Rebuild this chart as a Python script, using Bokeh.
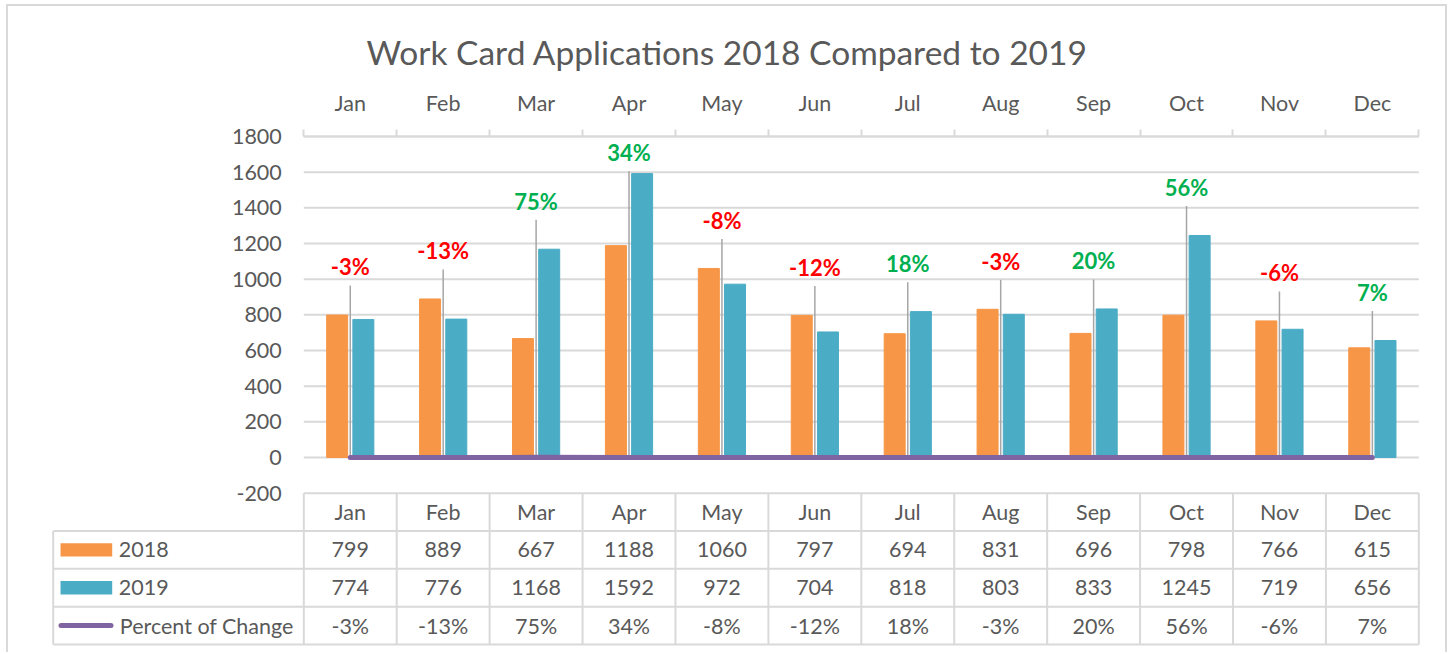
from bokeh.plotting import figure
from bokeh.models import Range1d, FixedTicker, ColumnDataSource, Title, LinearAxis
from bokeh.layouts import column
from bokeh.transform import dodge
from bokeh.embed import file_html
from bokeh.resources import INLINE
from bokeh.core.properties import value

# ---------------- data ----------------
months = ["Jan", "Feb", "Mar", "Apr", "May", "Jun", "Jul", "Aug", "Sep", "Oct", "Nov", "Dec"]
apps_2018 = [799, 889, 667, 1188, 1060, 797, 694, 831, 696, 798, 766, 615]
apps_2019 = [774, 776, 1168, 1592, 972, 704, 818, 803, 833, 1245, 719, 656]
pct_change = [-3, -13, 75, 34, -8, -12, 18, -3, 20, 56, -6, 7]
y_ticks = [-200, 0, 200, 400, 600, 800, 1000, 1200, 1400, 1600, 1800]
series_names = ["2018", "2019", "Percent of Change"]
title_text = "Work Card Applications 2018 Compared to 2019"

# ---------------- style ----------------
GRID = "#D9D9D9"
TEXT = "#595959"
ORANGE = "#F79646"
TEAL = "#4BACC6"
PURPLE = "#8064A2"
GREEN = "#00B050"
RED = "#FF0000"
LEADER = "#A6A6A6"
FONT = "Lato"

n = len(months)
centers = [i + 0.5 for i in range(n)]
pct_frac = [v / 100 for v in pct_change]
label_y = [min(max(a, b) + 270, 1710) for a, b in zip(apps_2018, apps_2019)]
leader_top = [y - 105 for y in label_y]
y_max = max(y_ticks)

src = ColumnDataSource(dict(
    x=centers, y18=apps_2018, y19=apps_2019, pct=pct_frac,
    label_y=label_y, leader_top=leader_top,
    label=[f"{v}%" for v in pct_change],
    label_color=[GREEN if v >= 0 else RED for v in pct_change],
))

# ---------------- figure ----------------
p = figure(width=1437, height=646,
           x_range=Range1d(-2.7153, 12.018), y_range=Range1d(-1059.9, 2080.4),
           x_axis_location="above", y_axis_location=None,
           output_backend="svg", toolbar_location=None,
           min_border_left=43, min_border_right=25, min_border_top=80, min_border_bottom=6)
p.extra_y_ranges = {"table": Range1d(-4.053, 10.750)}
p.outline_line_color = None
p.background_fill_color = "white"
p.border_fill_color = "white"
p.grid.visible = False

p.title = Title(text=title_text, align="left", offset=315, text_font_size="33.5px",
                text_font=FONT, text_font_style="normal", text_color=TEXT, standoff=30)

# top category axis: drawn on the top gridline, labels at centres, ticks at boundaries
xa = p.xaxis[0]
xa.fixed_location = y_max
xa.bounds = (0, n)
xa.ticker = FixedTicker(ticks=centers, minor_ticks=list(range(n + 1)))
xa.major_label_overrides = {c: m for c, m in zip(centers, months)}
xa.major_tick_line_color = None
xa.major_tick_out = 0
xa.major_tick_in = 0
xa.minor_tick_line_color = GRID
xa.minor_tick_line_width = 2
xa.minor_tick_out = 7
xa.minor_tick_in = 0
xa.axis_line_color = GRID
xa.axis_line_width = 2
xa.major_label_standoff = 14
xa.major_label_text_font = FONT
xa.major_label_text_font_size = "21.5px"
xa.major_label_text_color = TEXT

# value axis: drawn at the left edge of the plot area
ya = LinearAxis(fixed_location=0, ticker=FixedTicker(ticks=y_ticks))
ya.major_label_overrides = {v: str(v) for v in y_ticks}
ya.axis_line_color = None
ya.major_tick_line_color = None
ya.minor_tick_line_color = None
ya.major_tick_out = 0
ya.major_tick_in = 0
ya.major_label_standoff = 22
ya.major_label_text_font = FONT
ya.major_label_text_font_size = "21.5px"
ya.major_label_text_color = TEXT
p.add_layout(ya, "left")

# value gridlines
p.segment(x0=[0] * len(y_ticks), y0=y_ticks, x1=[n] * len(y_ticks), y1=y_ticks,
          line_color=GRID, line_width=2)

# series
p.vbar(x=dodge("x", -0.141), top="y18", width=0.226, color=ORANGE, source=src)
p.vbar(x=dodge("x", 0.141), top="y19", width=0.226, color=TEAL, source=src)
p.segment(x0="x", y0="pct", x1="x", y1="leader_top", line_color=LEADER, line_width=1.5, source=src)
p.line(x="x", y="pct", line_color=PURPLE, line_width=5, line_cap="round", source=src)
p.text(x="x", y="label_y", text="label", text_color="label_color", text_font=value(FONT),
       text_font_style="bold", text_font_size="22px", text_align="center",
       text_baseline="middle", source=src)

# ---------------- data table ----------------
left_edge = -2.697
T = dict(y_range_name="table")
p.segment(x0=[left_edge] * 4, y0=[-1, -2, -3, -4], x1=[n] * 4, y1=[-1, -2, -3, -4],
          line_color=GRID, line_width=2, **T)
p.segment(x0=list(range(n + 1)), y0=[0] * (n + 1), x1=list(range(n + 1)), y1=[-4] * (n + 1),
          line_color=GRID, line_width=2, **T)
p.segment(x0=[left_edge], y0=[-1], x1=[left_edge], y1=[-4], line_color=GRID, line_width=2, **T)

cell_kw = dict(text_font=value(FONT), text_font_size="21.5px", text_color=TEXT,
               text_baseline="middle", **T)
p.text(x=centers, y=[-0.5] * n, text=months, text_align="center", **cell_kw)
p.text(x=centers, y=[-1.5] * n, text=[str(v) for v in apps_2018], text_align="center", **cell_kw)
p.text(x=centers, y=[-2.5] * n, text=[str(v) for v in apps_2019], text_align="center", **cell_kw)
p.text(x=centers, y=[-3.5] * n, text=[f"{v}%" for v in pct_change], text_align="center", **cell_kw)

# legend keys of the table
p.quad(left=[-2.618, -2.618], right=[-2.062, -2.062], bottom=[-1.676, -2.676], top=[-1.324, -2.324],
       fill_color=[ORANGE, TEAL], line_color=None, **T)
p.line(x=[-2.613, -2.075], y=[-3.5, -3.5], line_color=PURPLE, line_width=5, line_cap="round", **T)
p.text(x=[-1.991, -1.991, -1.98], y=[-1.5, -2.5, -3.5], text=series_names, text_align="left", **cell_kw)

layout = column(p, margin=(4, 0, 0, 6),
                styles={"border-left": "2px solid #D9D9D9", "border-top": "2px solid #D9D9D9",
                        "border-right": "2px solid #D9D9D9"})

open("out.html", "w").write(file_html(layout, INLINE))
